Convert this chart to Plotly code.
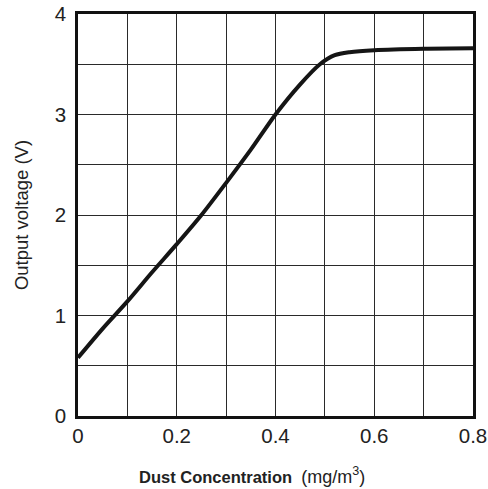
import plotly.graph_objects as go

concentration = [0.0, 0.05, 0.1, 0.15, 0.2, 0.25, 0.3, 0.35, 0.4, 0.45, 0.49, 0.52, 0.55, 0.6, 0.7, 0.8]
voltage = [0.58, 0.87, 1.14, 1.43, 1.71, 2.0, 2.32, 2.65, 3.0, 3.3, 3.5, 3.59, 3.62, 3.64, 3.655, 3.66]

x_ticks = [0, 0.2, 0.4, 0.6, 0.8]
x_labels = ["0", "0.2", "0.4", "0.6", "0.8"]
y_ticks = [0, 1, 2, 3, 4]
y_labels = ["0", "1", "2", "3", "4"]

fig = go.Figure()
fig.add_trace(go.Scatter(
    x=concentration, y=voltage, mode="lines",
    line=dict(color="#151515", width=4, shape="spline", smoothing=0.8),
    showlegend=False, hoverinfo="skip",
))

font = "Liberation Sans, Arial, sans-serif"
fig.update_layout(
    width=488, height=489,
    margin=dict(l=78, r=15, t=14, b=73),
    paper_bgcolor="white", plot_bgcolor="white",
    font=dict(family=font, color="#222"),
    xaxis=dict(
        range=[0, 0.8], tickvals=x_ticks, ticktext=x_labels,
        tickfont=dict(size=20.5, color="#222"),
        showgrid=True, gridcolor="#2a2a2a", gridwidth=1.4,
        minor=dict(dtick=0.1, showgrid=True, gridcolor="#2a2a2a", gridwidth=1.4, tick0=0),
        showline=True, linecolor="#111", linewidth=2.5, mirror=True,
        ticks="", ticklen=0, zeroline=False, automargin=False,
    ),
    yaxis=dict(
        range=[0, 4], tickvals=y_ticks, ticktext=y_labels,
        tickfont=dict(size=20.5, color="#222"), ticklabelstandoff=5,
        showgrid=True, gridcolor="#2a2a2a", gridwidth=1.4,
        minor=dict(dtick=0.5, showgrid=True, gridcolor="#2a2a2a", gridwidth=1.4, tick0=0),
        showline=True, linecolor="#111", linewidth=2.5, mirror=True,
        ticks="", ticklen=0, zeroline=False, automargin=False,
        title=dict(text="Output voltage (V)", font=dict(size=18.5, color="#222"), standoff=22),
    ),
    annotations=[dict(
        text="<b>Dust Concentration</b>  <span style='font-size:18px'>(mg/m<sup>3</sup>)</span>",
        font=dict(size=16.5, color="#222", family=font),
        xref="paper", yref="paper", x=0.149, y=-0.149,
        xanchor="left", yanchor="middle", showarrow=False,
    )],
)

fig.write_html("out.html", config={"displayModeBar": False},
               post_script="document.body.style.margin='0';")
